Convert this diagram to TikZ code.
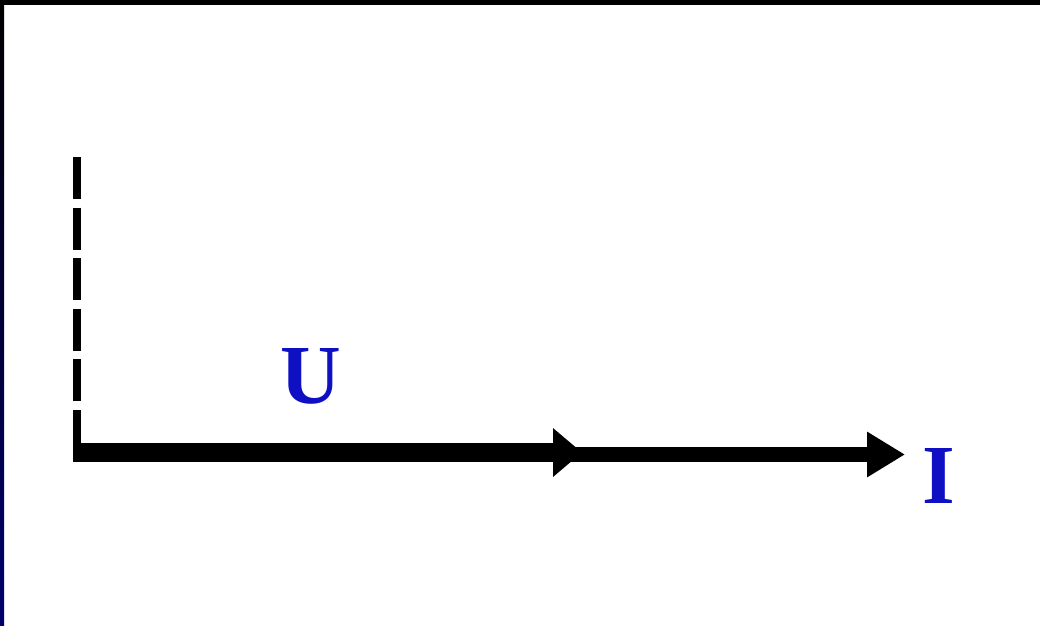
\documentclass[tikz,border=0pt]{standalone}
\usepackage{fontspec}
\setmainfont{Liberation Serif}
\usetikzlibrary{arrows.meta}
\definecolor{lblblue}{RGB}{15,15,195}
\definecolor{navy}{RGB}{0,0,110}
\tikzset{
  vec/.style={draw=black, line cap=butt},
  lbl/.style={text=lblblue, font=\fontsize{84}{84}\selectfont\bfseries, inner sep=0pt, anchor=base west},
}
\begin{document}
\begin{tikzpicture}[x=1pt,y=-1pt]
\useasboundingbox (0,0) rectangle (1040,625);
\fill[white] (0,0) rectangle (1040,625);
% frame edges
\fill[black] (0,0) rectangle (1040,5);
\shade[top color=black, bottom color=navy] (0,0) rectangle (4,625);
% points
\coordinate (O) at (73,452.5);
\coordinate (Up) at (77,157);
\coordinate (Vb) at (77,443);
\coordinate (A1) at (582,452.5);
\coordinate (T0) at (560,454.5);
\coordinate (A2) at (905,454.5);
% dashed vertical
\draw[vec, line width=8.5pt, dash pattern=on 42pt off 8.6pt] (Up) -- (Vb);
% thin arrow
\draw[vec, line width=15pt, -{Triangle[length=38pt,width=43pt]}] (T0) -- (A2);
% thick arrow
\draw[vec, line width=19pt, -{Triangle[length=29pt,width=47pt]}] (O) -- (A1);
% labels
\node[lbl] (U) at (280,403) {U};
\node[lbl] (I) at (922,503) {I};
\end{tikzpicture}
\end{document}
